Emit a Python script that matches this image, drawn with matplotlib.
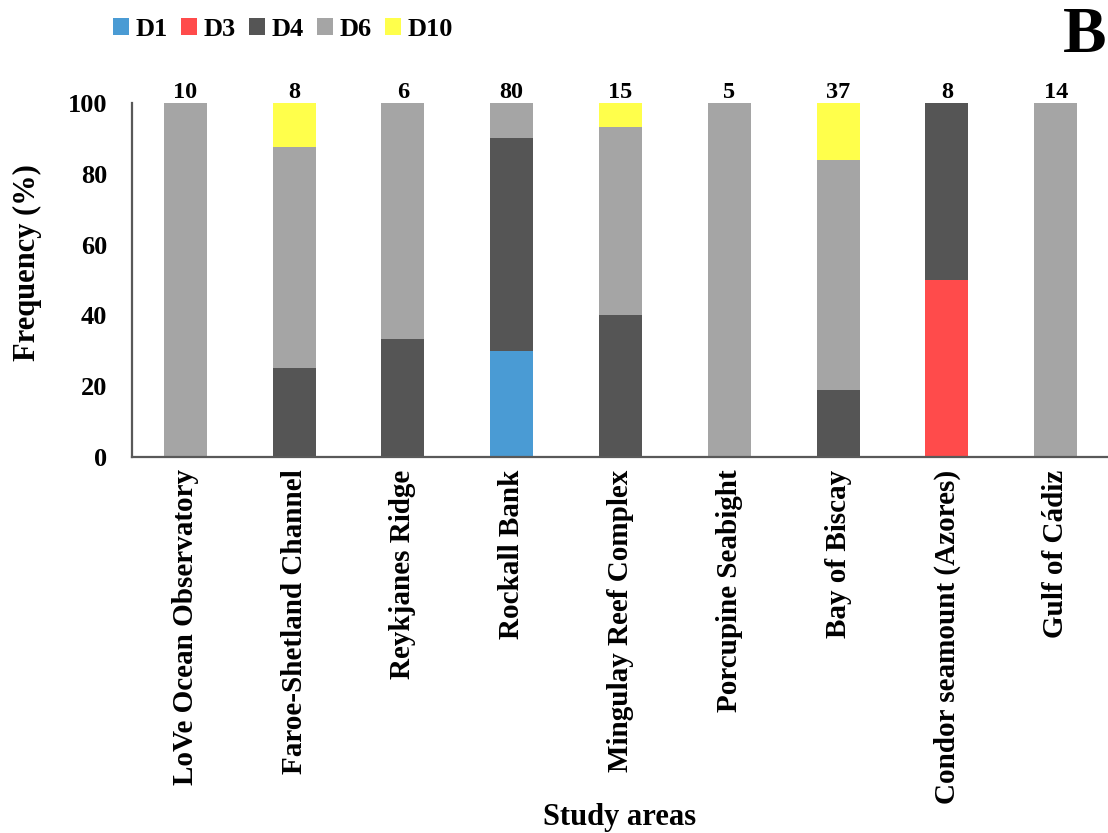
import numpy as np
import matplotlib
matplotlib.use('Agg')
import matplotlib.pyplot as plt

areas = ['LoVe Ocean Observatory', 'Faroe-Shetland Channel', 'Reykjanes Ridge',
         'Rockall Bank', 'Mingulay Reef Complex', 'Porcupine Seabight',
         'Bay of Biscay', 'Condor seamount (Azores)', 'Gulf of Cádiz']
n_obs = [10, 8, 6, 80, 15, 5, 37, 8, 14]
d1 = [0, 0, 0, 30, 0, 0, 0, 0, 0]
d3 = [0, 0, 0, 0, 0, 0, 0, 50, 0]
d4 = [0, 25, 33.3, 60, 40, 0, 18.9, 50, 0]
d6 = [100, 62.5, 66.7, 10, 53.3, 100, 64.9, 0, 100]
d10 = [0, 12.5, 0, 0, 6.7, 0, 16.2, 0, 0]

series = [('D1', d1, '#4A9BD4'), ('D3', d3, '#FF4B4B'), ('D4', d4, '#555555'),
          ('D6', d6, '#A5A5A5'), ('D10', d10, '#FFFF4B')]

plt.rcParams['font.family'] = ['Liberation Serif', 'DejaVu Serif']
plt.rcParams['font.weight'] = 'bold'

fig = plt.figure(figsize=(11.08, 8.33), dpi=100)
ax = fig.add_axes([0.1191, 0.4514, 0.8809, 0.4250])

xs = np.arange(len(areas))
bottom = np.zeros(len(areas))
for name, vals, col in series:
    vals = np.array(vals, dtype=float)
    ax.bar(xs, vals, width=0.395, bottom=bottom, color=col, label=name,
           linewidth=0, zorder=2)
    bottom += vals

for x, top, n in zip(xs, bottom, n_obs):
    ax.text(x, top, str(n), ha='center', va='bottom', fontsize=17.5, fontweight='bold')

ax.set_xlim(-0.49, 8.48)
ax.set_ylim(0, 100)
ax.set_yticks(np.arange(0, 101, 20))
ax.tick_params(axis='y', length=0, pad=18, labelsize=19)
ax.set_xticks(xs)
ax.set_xticklabels(areas, rotation=90, fontsize=21, fontweight='bold', va='top')
ax.tick_params(axis='x', length=0, pad=9)
for s in ['top', 'right']:
    ax.spines[s].set_visible(False)
for s in ['left', 'bottom']:
    ax.spines[s].set_color('#595959')
    ax.spines[s].set_linewidth(1.6)

ax.set_ylabel('Frequency (%)', fontsize=22, fontweight='bold', va='center')
ax.yaxis.set_label_coords(-0.107, 0.548)
ax.set_xlabel('Study areas', fontsize=22, fontweight='bold', va='center')
ax.xaxis.set_label_coords(0.5, -1.017)

fig.legend(loc='center', bbox_to_anchor=(283 / 1108, 1 - 29 / 833), ncol=5,
           frameon=False, fontsize=19, handlelength=0.6, handleheight=0.6,
           handletextpad=0.25, columnspacing=0.5, borderpad=0)
fig.text(1106 / 1108, 1 - 52 / 833, 'B', fontsize=47, fontweight='bold',
         ha='right', va='baseline')

fig.savefig('out.png', dpi=100)
